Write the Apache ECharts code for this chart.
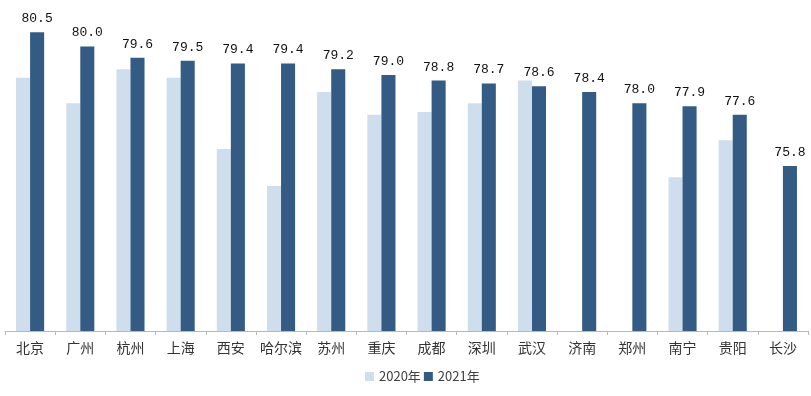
<!DOCTYPE html>
<html>
<head>
<meta charset="utf-8">
<script src="https://cdn.jsdelivr.net/npm/echarts@6/dist/echarts.min.js"></script>
<style>html,body{margin:0;padding:0;background:#fff;}#c{width:811px;height:396px;}</style>
</head>
<body>
<div id="c"></div>
<script>
const categories = ['北京','广州','杭州','上海','西安','哈尔滨','苏州','重庆','成都','深圳','武汉','济南','郑州','南宁','贵阳','长沙'];
const values2020 = [78.9, 78.0, 79.2, 78.9, 76.4, 75.1, 78.4, 77.6, 77.7, 78.0, 78.8, null, null, 75.4, 76.7, null];
const values2021 = [80.5, 80.0, 79.6, 79.5, 79.4, 79.4, 79.2, 79.0, 78.8, 78.7, 78.6, 78.4, 78.0, 77.9, 77.6, 75.8];
const seriesNames = ['2020年', '2021年'];

const chart = echarts.init(document.getElementById('c'), null, {renderer: 'canvas'});
chart.setOption({
  animation: false,
  backgroundColor: '#ffffff',
  grid: {left: 5, right: 3, top: 18, bottom: 65, containLabel: false},
  legend: {
    data: seriesNames,
    bottom: 8,
    left: 360,
    itemWidth: 9,
    itemHeight: 9,
    itemGap: 3,
    icon: 'rect',
    textStyle: {fontSize: 13, color: '#404040', fontFamily: 'Noto Sans CJK SC, sans-serif'}
  },
  xAxis: {
    type: 'category',
    data: categories,
    axisLine: {lineStyle: {color: '#b8b8b8', width: 1}},
    axisTick: {show: true, length: 4, lineStyle: {color: '#b8b8b8'}},
    axisLabel: {interval: 0, fontSize: 14, color: '#333', margin: 10, fontFamily: 'Noto Sans CJK SC'}
  },
  yAxis: {
    type: 'value',
    min: 70,
    max: 81,
    show: false,
    splitLine: {show: false}
  },
  series: [
    {
      name: seriesNames[0],
      type: 'bar',
      data: values2020,
      barGap: '0%',
      barCategoryGap: '44%',
      itemStyle: {color: '#cfdeed'}
    },
    {
      name: seriesNames[1],
      type: 'bar',
      data: values2021,
      itemStyle: {color: '#335b84'},
      label: {
        show: true,
        position: 'top',
        distance: 7,
        fontSize: 13,
        color: '#111',
        fontFamily: 'Liberation Mono, DejaVu Sans Mono, monospace',
        formatter: p => p.value.toFixed(1)
      }
    }
  ]
});
</script>
</body>
</html>
